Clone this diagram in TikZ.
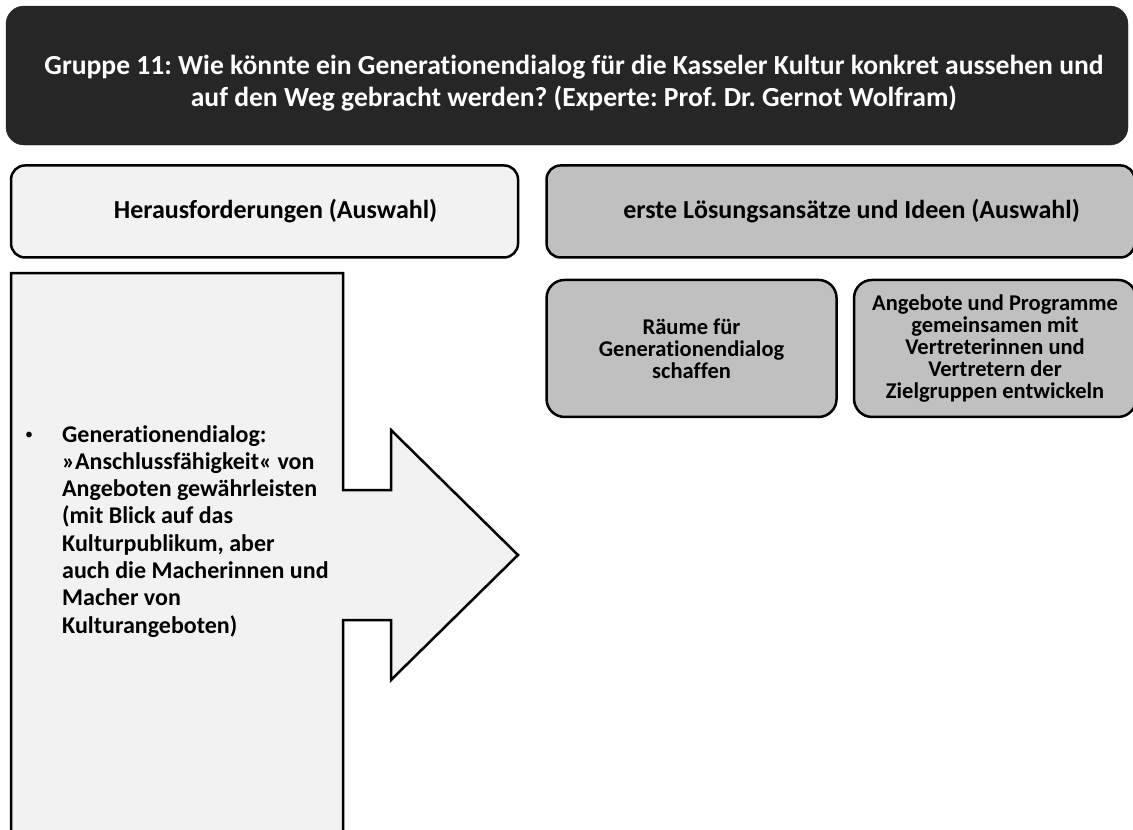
\documentclass[tikz,border=0pt]{standalone}
\usepackage{fontspec}
\setmainfont{Carlito}[Ligatures=CommonOff]
\frenchspacing
\usepackage{tikz}
\usetikzlibrary{positioning}

\definecolor{titlebg}{HTML}{262626}
\definecolor{lightbg}{HTML}{F2F2F2}
\definecolor{midbg}{HTML}{C0C0C0}

\begin{document}
\begin{tikzpicture}[x=1pt, y=-1pt,
  ttl/.style={draw=titlebg, fill=titlebg, rounded corners=18pt, minimum width=1122pt, minimum height=139pt},
  ttltxt/.style={text=white, align=center, font=\bfseries\fontsize{27.6}{32}\selectfont},
  hdr/.style={draw, line width=2.5pt, rounded corners=14pt, align=center,
    minimum height=92pt, font=\bfseries\fontsize{26}{30}\selectfont,
    execute at begin node=\hspace*{22pt}},
  idea/.style={draw, line width=2.5pt, rounded corners=18pt, fill=midbg, align=center,
    minimum height=137pt, inner sep=1pt, font=\bfseries\fontsize{22.5}{22}\selectfont},
  txt/.style={inner sep=0pt, align=left, font=\bfseries\fontsize{24}{27.3}\selectfont}
]
\useasboundingbox (0,0) rectangle (1133,830);
\clip (0,0) rectangle (1133,830);

\node[ttl] (title) at (567,75.5) {};
\node[ttltxt] (ask) at ([xshift=7pt, yshift=-8pt]title.center) {Gruppe 11: Wie könnte ein Generationendialog für die Kasseler Kultur konkret aussehen und\\auf den Weg gebracht werden? (Experte: Prof. Dr. Gernot Wolfram)};

\node[hdr, fill=lightbg, minimum width=507pt, below right=19pt and 4pt of title.south west] (chal) {Herausforderungen (Auswahl)};
\node[hdr, fill=midbg, minimum width=588pt, right=26pt of chal] (sol) {erste Lösungsansätze und Ideen (Auswahl)};

\node[idea, minimum width=290pt, below right=20pt and 0pt of sol.south west] (rooms) {Räume für\\Generationendialog\\schaffen};
\node[idea, minimum width=282pt, right=15pt of rooms] (offers) {Angebote und Programme\\gemeinsamen mit\\Vertreterinnen und\\Vertretern der\\Zielgruppen entwickeln};

% Pfeil-Kasten
\draw[line width=2.5pt, fill=lightbg] (11,850) -- (11,273) -- (343,273) -- (343,490) -- (391,490) -- (391,430)
  -- (518,555) -- (391,680) -- (391,620) -- (343,620) -- (343,850);

\node[txt, anchor=north west] (gen) at (62,425) {Generationendialog:\\»Anschlussfähigkeit« von\\Angeboten gewährleisten\\(mit Blick auf das\\Kulturpublikum, aber\\auch die Macherinnen und\\Macher von\\Kulturangeboten)};
\node[inner sep=0pt, font=\fontsize{16}{16}\selectfont] (blt) at ([xshift=-33pt, yshift=-11pt]gen.north west) {•};
\end{tikzpicture}
\end{document}
